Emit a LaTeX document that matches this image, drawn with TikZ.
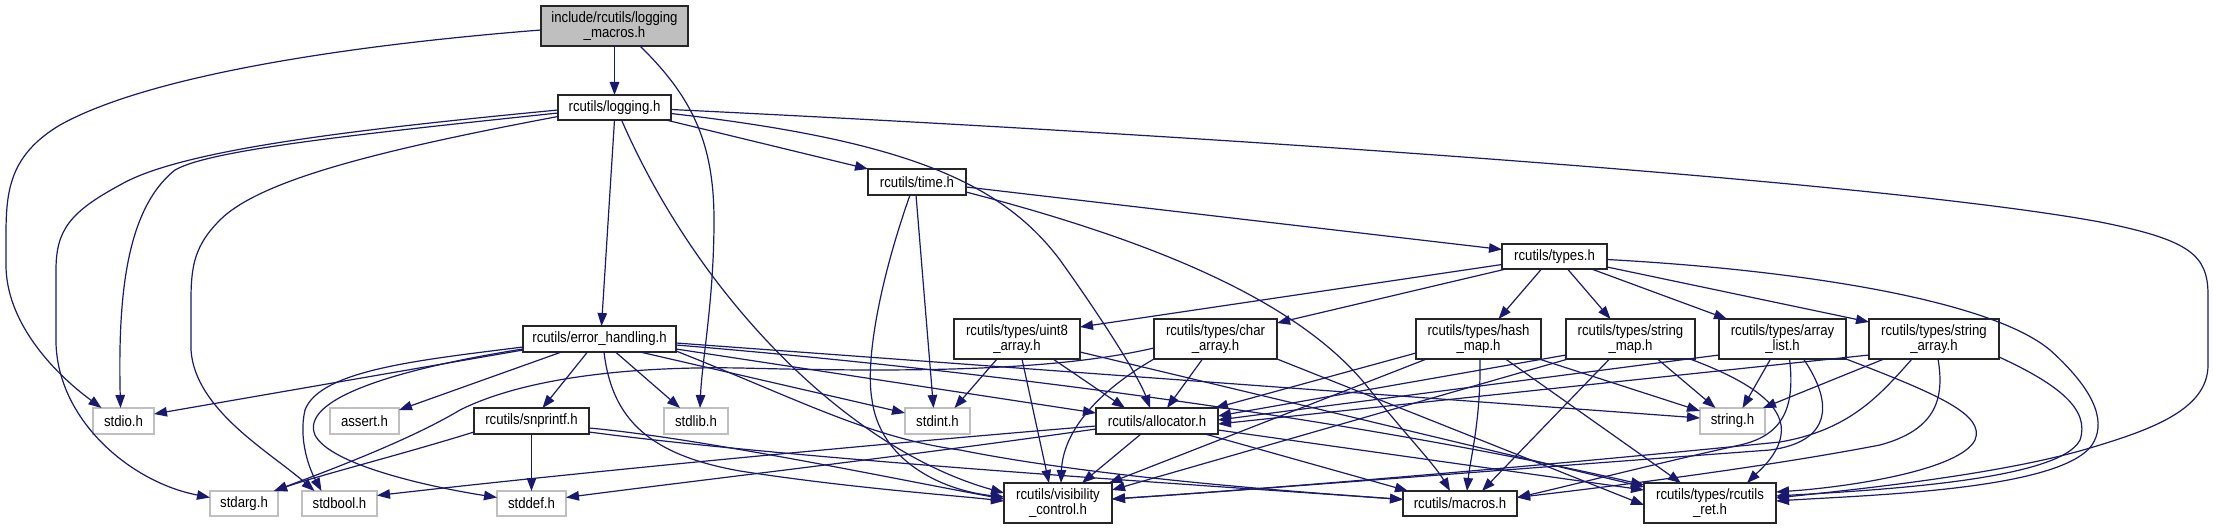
\documentclass[tikz,border=0pt]{standalone}
\usepackage{fontspec}
\newfontfamily\dfont[FakeStretch=0.88]{Liberation Sans}
\usetikzlibrary{arrows.meta,calc}
\definecolor{edgeblue}{RGB}{25,25,112}
\definecolor{sysgray}{RGB}{191,191,191}
\begin{document}
\begin{tikzpicture}[x=1pt,y=-1pt,
  box/.style={draw=black!85, line width=1.4pt, fill=white, inner sep=0pt, outer sep=0pt, align=center, font=\dfont\fontsize{15}{15}\selectfont},
  sys/.style={box, draw=sysgray},
  dep/.style={draw=edgeblue, line width=1.2pt, -{Triangle[length=13pt,width=9.5pt]}}]
\useasboundingbox[fill=white] (0,0) rectangle (2213,529);
% nodes
\node[box,fill=sysgray,minimum width=147pt,minimum height=40pt] (root) at (614.5,26) {include/rcutils/logging\\\_macros.h};
\node[box,minimum width=113pt,minimum height=25pt] (logging) at (614.5,107.5) {rcutils/logging.h};
\node[box,minimum width=98pt,minimum height=26pt] (time) at (917,182) {rcutils/time.h};
\node[box,minimum width=105pt,minimum height=25pt] (types) at (1554.5,256.5) {rcutils/types.h};
\node[box,minimum width=153pt,minimum height=26pt] (eh) at (599.5,339) {rcutils/error\_handling.h};
\node[box,minimum width=126pt,minimum height=40pt] (uint8) at (1017,339) {rcutils/types/uint8\\\_array.h};
\node[box,minimum width=123pt,minimum height=40pt] (charr) at (1215.5,339) {rcutils/types/char\\\_array.h};
\node[box,minimum width=125pt,minimum height=40pt] (hash) at (1478.5,339) {rcutils/types/hash\\\_map.h};
\node[box,minimum width=129pt,minimum height=40pt] (smap) at (1630.5,339) {rcutils/types/string\\\_map.h};
\node[box,minimum width=127pt,minimum height=40pt] (alist) at (1782.5,339) {rcutils/types/array\\\_list.h};
\node[box,minimum width=130pt,minimum height=40pt] (sarr) at (1934,339) {rcutils/types/string\\\_array.h};
\node[sys,minimum width=61pt,minimum height=26pt] (stdio) at (123.5,421) {stdio.h};
\node[sys,minimum width=69pt,minimum height=26pt] (assert) at (364.5,421) {assert.h};
\node[box,minimum width=115pt,minimum height=26pt] (snprintf) at (531.5,421) {rcutils/snprintf.h};
\node[sys,minimum width=64pt,minimum height=26pt] (stdlib) at (696,421) {stdlib.h};
\node[sys,minimum width=65pt,minimum height=26pt] (stdint) at (937.5,421) {stdint.h};
\node[box,minimum width=122pt,minimum height=26pt] (alloc) at (1157,421) {rcutils/allocator.h};
\node[sys,minimum width=65pt,minimum height=26pt] (string) at (1732.5,421) {string.h};
\node[sys,minimum width=68pt,minimum height=25pt] (stdarg) at (244,503.5) {stdarg.h};
\node[sys,minimum width=75pt,minimum height=25pt] (stdbool) at (339.5,503.5) {stdbool.h};
\node[sys,minimum width=69pt,minimum height=25pt] (stddef) at (531.5,503.5) {stddef.h};
\node[box,minimum width=108pt,minimum height=40pt] (vis) at (1058,503) {rcutils/visibility\\\_control.h};
\node[box,minimum width=114pt,minimum height=25pt] (macros) at (1460,503.5) {rcutils/macros.h};
\node[box,minimum width=132pt,minimum height=40pt] (ret) at (1710,503) {rcutils/types/rcutils\\\_ret.h};
% root
\draw[dep] (root.south) -- (logging.north);
\draw[dep] ($(root.west)+(0,4)$) .. controls (350,45) and (150,75) .. (60,125) .. controls (10,155) and (6,190) .. (6,235) -- (6,265) .. controls (6,320) and (50,370) .. ($(stdio.north)+(-22,0)$);
\draw[dep] ($(root.south)+(25.5,0)$) .. controls (690,95) and (714,140) .. (714,220) .. controls (714,300) and (702,360) .. ($(stdlib.north)+(4,0)$);
% logging
\draw[dep] (logging.south) -- ($(eh.north)+(2,0)$);
\draw[dep] ($(logging.south east)+(-5,0)$) -- (time.north west);
\draw[dep] ($(logging.west)+(0,5.5)$) .. controls (350,135) and (210,150) .. (175,170) .. controls (125,210) and (118,300) .. ($(stdio.north)+(-3,0)$);
\draw[dep] ($(logging.west)+(0,2.5)$) .. controls (350,130) and (180,150) .. (120,185) .. controls (70,212) and (56,230) .. (56,270) -- (56,343) .. controls (58,420) and (130,482) .. ($(stdarg.west)+(0,-6)$);
\draw[dep] ($(logging.west)+(0,9)$) .. controls (380,150) and (260,180) .. (220,220) .. controls (195,245) and (191,265) .. (191,300) -- (191,350) .. controls (195,410) and (270,452) .. ($(stdbool.north)+(-25,0)$);
\draw[dep] ($(logging.south)+(7,0)$) .. controls (700,300) and (850,450) .. ($(vis.west)+(0,-10)$);
\draw[dep] ($(logging.east)+(0,6)$) .. controls (900,140) and (1000,180) .. (1060,260) .. controls (1110,330) and (1140,380) .. ($(alloc.north)+(-7,0)$);
\draw[dep] ($(logging.east)+(0,2)$) .. controls (1300,140) and (1900,185) .. (2100,222) .. controls (2190,240) and (2208,255) .. (2208,295) -- (2208,365) .. controls (2208,410) and (2150,430) .. (2090,448) .. controls (2000,475) and (1850,490) .. ($(ret.east)+(0,-5)$);
% time
\draw[dep] ($(time.east)+(0,5)$) -- ($(types.west)+(0,-7)$);
\draw[dep] ($(time.south)+(-7,0)$) .. controls (880,280) and (865,360) .. (872,400) .. controls (880,460) and (940,490) .. ($(vis.west)+(0,-6)$);
\draw[dep] ($(time.south)+(-1,0)$) -- ($(stdint.north)+(-4,0)$);
\draw[dep] ($(time.east)+(0,10)$) .. controls (1150,240) and (1300,300) .. (1370,390) .. controls (1400,428) and (1435,465) .. ($(macros.north)+(-10,0)$);
% types
\draw[dep] ($(types.west)+(0,8)$) -- ($(uint8.east)+(0,-12)$);
\draw[dep] ($(types.south west)+(4,0)$) -- ($(charr.north east)+(0,4)$);
\draw[dep] ($(types.south)+(-13,0)$) -- ($(hash.north)+(20,0)$);
\draw[dep] ($(types.south)+(13,0)$) -- ($(smap.north)+(-20,0)$);
\draw[dep] ($(types.south)+(37,0)$) -- ($(alist.north west)+(8,0)$);
\draw[dep] ($(types.south east)+(0,-2)$) -- ($(sarr.north west)+(0,3)$);
\draw[dep] ($(types.east)+(0,3)$) .. controls (1800,270) and (1990,300) .. (2050,350) .. controls (2100,395) and (2105,425) .. (2092,445) .. controls (2060,490) and (1870,495) .. ($(ret.east)+(0,-2)$);
% uint8
\draw[dep] ($(uint8.south)+(-20,0)$) -- ($(stdint.north)+(17,0)$);
\draw[dep] ($(uint8.south)+(36,0)$) -- ($(alloc.north)+(-32,0)$);
\draw[dep] ($(uint8.south)+(5,0)$) -- ($(vis.north)+(-9,0)$);
\draw[dep] ($(uint8.east)+(0,13)$) -- ($(ret.west)+(0,-16)$);
% char
\draw[dep] ($(charr.west)+(0,9)$) .. controls (1050,372) and (900,372) .. (740,368) .. controls (620,366) and (520,380) .. (460,410) .. controls (410,440) and (330,470) .. ($(stdarg.north east)+(-4,0)$);
\draw[dep] ($(charr.south)+(-13,0)$) -- ($(alloc.north)+(10,0)$);
\draw[dep] (charr.south west) .. controls (1100,390) and (1063,430) .. ($(vis.north)+(3,0)$);
\draw[dep] (charr.south east) -- ($(ret.west)+(0,2)$);
% hash
\draw[dep] ($(hash.west)+(0,14)$) -- ($(alloc.north east)+(-3,0)$);
\draw[dep] ($(hash.south)+(-52,0)$) -- ($(vis.north east)+(-3,0)$);
\draw[dep] ($(hash.south)+(1.5,0)$) .. controls (1481,420) and (1470,460) .. ($(macros.north)+(7,0)$);
\draw[dep] ($(hash.south)+(27,0)$) -- ($(ret.north)+(-29,0)$);
\draw[dep] ($(hash.south east)+(-2,0)$) -- ($(string.north west)+(0,3)$);
% string map
\draw[dep] ($(smap.west)+(0,16)$) -- ($(alloc.east)+(0,-5)$);
\draw[dep] ($(smap.south west)+(2,0)$) -- ($(vis.east)+(0,-13)$);
\draw[dep] ($(smap.south)+(-21,0)$) -- ($(macros.north east)+(-35,0)$);
\draw[dep] ($(smap.south)+(27,0)$) -- ($(string.north)+(-17,0)$);
\draw[dep] ($(smap.south east)+(-5,0)$) .. controls (1760,385) and (1785,410) .. (1781,435) .. controls (1778,455) and (1760,470) .. ($(ret.north)+(37,0)$);
% array list
\draw[dep] ($(alist.west)+(0,16)$) -- ($(alloc.east)+(0,-1)$);
\draw[dep] ($(alist.south)+(-12,0)$) -- ($(string.north)+(10,0)$);
\draw[dep] ($(alist.south)+(7,0)$) .. controls (1795,405) and (1785,435) .. (1740,445) .. controls (1650,465) and (1560,488) .. ($(macros.east)+(0,-6)$);
\draw[dep] ($(alist.south)+(21,0)$) .. controls (1835,405) and (1830,442) .. (1770,450) .. controls (1500,470) and (1250,490) .. ($(vis.east)+(0,-4)$);
\draw[dep] (alist.south east) .. controls (1940,395) and (1985,415) .. (1975,440) .. controls (1960,470) and (1850,487) .. ($(ret.east)+(0,-11)$);
% string array
\draw[dep] ($(sarr.west)+(0,16)$) -- ($(alloc.east)+(0,3)$);
\draw[dep] ($(sarr.south)+(-50,0)$) -- ($(string.north east)+(-2,0)$);
\draw[dep] ($(sarr.south)+(-22,0)$) .. controls (1880,395) and (1850,430) .. (1780,442) .. controls (1500,470) and (1250,490) .. ($(vis.east)+(0,-4)$);
\draw[dep] ($(sarr.south)+(4,0)$) .. controls (1945,400) and (1935,430) .. (1880,445) .. controls (1750,470) and (1580,490) .. ($(macros.east)+(0,-6)$);
\draw[dep] ($(sarr.south east)+(0,-2)$) .. controls (2060,385) and (2090,410) .. (2080,440) .. controls (2060,480) and (1880,490) .. ($(ret.east)+(0,-7)$);
% allocator
\draw[dep] ($(alloc.west)+(0,5)$) .. controls (900,442) and (600,470) .. ($(stdbool.east)+(0,-8)$);
\draw[dep] ($(alloc.west)+(0,8)$) .. controls (900,457) and (700,480) .. ($(stddef.east)+(0,-6)$);
\draw[dep] ($(alloc.south)+(-16,0)$) -- ($(vis.north)+(24,0)$);
\draw[dep] ($(alloc.south east)+(-13,0)$) -- ($(macros.north west)+(5,0)$);
\draw[dep] ($(alloc.east)+(0,9)$) -- ($(ret.west)+(0,-13)$);
% error handling
\draw[dep] ($(eh.south west)+(0,-2)$) -- ($(stdio.east)+(0,-7)$);
\draw[dep] ($(eh.south)+(-38,0)$) -- ($(assert.north east)+(0,2)$);
\draw[dep] ($(eh.south)+(-12,0)$) -- ($(snprintf.north)+(11,0)$);
\draw[dep] ($(eh.south)+(16,0)$) -- ($(stdlib.north west)+(16,0)$);
\draw[dep] ($(eh.west)+(0,8)$) .. controls (420,360) and (320,370) .. (305,410) .. controls (298,440) and (310,470) .. ($(stdbool.north)+(-18,0)$);
\draw[dep] ($(eh.west)+(0,10)$) .. controls (390,370) and (300,400) .. (315,435) .. controls (330,465) and (430,487) .. ($(stddef.west)+(0,-6)$);
\draw[dep] ($(eh.south)+(40.5,0)$) -- ($(stdint.west)+(0,-8)$);
\draw[dep] ($(eh.east)+(0,10)$) -- ($(alloc.west)+(0,-8)$);
\draw[dep] ($(eh.south)+(4.5,0)$) .. controls (612,420) and (650,455) .. (740,471) .. controls (850,488) and (950,495) .. ($(vis.west)+(0,-2)$);
\draw[dep] ($(eh.south east)+(0,-1)$) .. controls (800,400) and (870,438) .. (960,450) .. controls (1100,478) and (1300,492) .. ($(macros.west)+(0,-4)$);
\draw[dep] ($(eh.east)+(0,4)$) -- ($(string.west)+(0,-3)$);
\draw[dep] ($(eh.east)+(0,6)$) .. controls (1100,380) and (1450,440) .. ($(ret.west)+(0,-18)$);
% snprintf
\draw[dep] ($(snprintf.south west)+(0,-2)$) .. controls (400,455) and (320,475) .. ($(stdarg.north east)+(-4,0)$);
\draw[dep] (snprintf.south) -- (stddef.north);
\draw[dep] ($(snprintf.east)+(0,7)$) .. controls (700,438) and (900,480) .. ($(vis.west)+(0,-4)$);
\draw[dep] ($(snprintf.east)+(0,11)$) .. controls (800,460) and (1200,485) .. ($(macros.west)+(0,-4)$);
\end{tikzpicture}
\end{document}
